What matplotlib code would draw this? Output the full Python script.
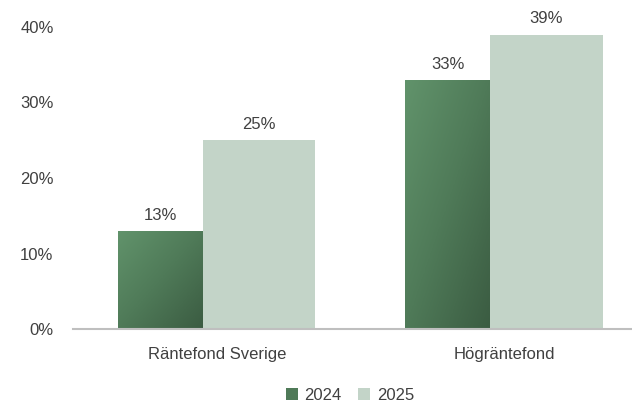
import matplotlib.pyplot as plt
import numpy as np
from matplotlib.colors import LinearSegmentedColormap
from matplotlib.patches import Patch

plt.rcParams['font.family'] = ['Liberation Sans', 'DejaVu Sans']

categories = ['Räntefond Sverige', 'Högräntefond']
years = ['2024', '2025']
values_2024 = [0.13, 0.33]
values_2025 = [0.25, 0.39]
labels_2024 = ['13%', '33%']
labels_2025 = ['25%', '39%']

text_color = '#404040'
color_2025 = '#c3d4c8'
grad = LinearSegmentedColormap.from_list('g', ['#61936b', '#4f7a58', '#3b5c42'])

fig = plt.figure(figsize=(6.32, 4.03), dpi=100)
ax = fig.add_axes([73 / 632, 74 / 403, 575 / 632, 302 / 403])

x = np.arange(len(categories))
w1, w2 = 0.295, 0.392
off1 = -0.344

bars1 = ax.bar(x + off1, values_2024, width=w1, align='edge', color='none', edgecolor='none')
bars2 = ax.bar(x + off1 + w1, values_2025, width=w2, align='edge', color=color_2025, edgecolor='none')

# gradient fill for the 2024 bars (top-left light -> bottom-right dark)
gx, gy = np.meshgrid(np.linspace(0, 1, 64), np.linspace(0, 1, 64))
g = (gx + gy) / 2
for b in bars1:
    x0, y0 = b.get_x(), b.get_y()
    im = ax.imshow(g, cmap=grad, extent=[x0, x0 + b.get_width(), y0, y0 + b.get_height()],
                   origin='upper', aspect='auto', zorder=2)
    im.set_clip_path(b)

for b, lab in zip(bars1, labels_2024):
    ax.annotate(lab, (b.get_x() + b.get_width() / 2, b.get_height()), xytext=(0, 6),
                textcoords='offset points', ha='center', va='bottom', fontsize=12, color=text_color)
for b, lab in zip(bars2, labels_2025):
    ax.annotate(lab, (b.get_x() + b.get_width() / 2, b.get_height()), xytext=(0, 6),
                textcoords='offset points', ha='center', va='bottom', fontsize=12, color=text_color)

ax.set_xlim(-0.5, 1.5)
ax.set_ylim(0, 0.40)
ax.set_yticks([0, 0.1, 0.2, 0.3, 0.4])
ax.set_yticklabels(['0%', '10%', '20%', '30%', '40%'])
ax.set_xticks(x)
ax.set_xticklabels(categories)
ax.tick_params(axis='both', length=0, labelsize=12, colors=text_color)
ax.tick_params(axis='y', pad=14)
ax.tick_params(axis='x', pad=13)

for s in ['top', 'right', 'left']:
    ax.spines[s].set_visible(False)
ax.spines['bottom'].set_color('#bfbfbf')
ax.spines['bottom'].set_linewidth(1.5)

handles = [Patch(facecolor='#4f7a58', label='2024'), Patch(facecolor=color_2025, label='2025')]
fig.legend(handles=handles, loc='center', bbox_to_anchor=(350 / 632, 1 - 395 / 403), ncol=2,
           frameon=False, fontsize=12, handlelength=0.7, handleheight=0.7,
           handletextpad=0.4, columnspacing=1.0, labelcolor=text_color)

plt.savefig('out.png', dpi=100)
